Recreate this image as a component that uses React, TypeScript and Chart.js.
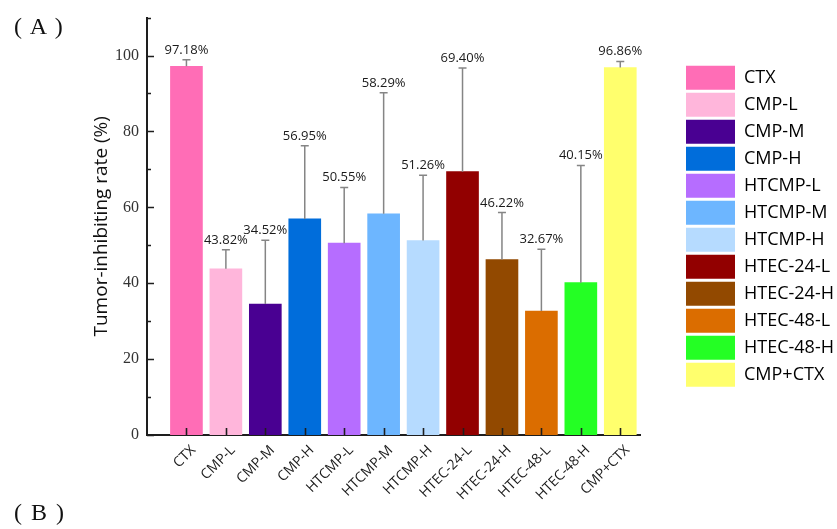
import { useEffect, useRef } from "react";
import { Chart, registerables } from "chart.js";

Chart.register(...registerables);

// Treatment groups and their tumor-inhibiting rates (%)
const groups = [
  "CTX",
  "CMP-L",
  "CMP-M",
  "CMP-H",
  "HTCMP-L",
  "HTCMP-M",
  "HTCMP-H",
  "HTEC-24-L",
  "HTEC-24-H",
  "HTEC-48-L",
  "HTEC-48-H",
  "CMP+CTX",
];
const rates = [97.18, 43.82, 34.52, 56.95, 50.55, 58.29, 51.26, 69.4, 46.22, 32.67, 40.15, 96.86];
// Upper error (SD) for each group
const rateErrors = [1.7, 5.0, 16.8, 19.3, 14.7, 31.9, 17.2, 27.3, 12.4, 16.3, 30.9, 1.6];
const groupColors = [
  "#ff6db6",
  "#ffb6db",
  "#490092",
  "#006ddb",
  "#b66dff",
  "#6db6ff",
  "#b6dbff",
  "#920000",
  "#924900",
  "#db6d00",
  "#24ff24",
  "#ffff6d",
];
const yTickValues = [0, 20, 40, 60, 80, 100];
const yMinorValues = [10, 30, 50, 70, 90, 110];

const SANS = "'Open Sans', 'Noto Sans', sans-serif";
const SERIF = "'Liberation Serif', 'Times New Roman', serif";
const AXIS_COLOR = "#1e1e1e";

// Error bars, value labels and inward-pointing axis ticks
const overlayPlugin = {
  id: "overlay",
  afterDatasetsDraw(chart: any) {
    const { ctx, chartArea } = chart;
    const xs = chart.scales.x;
    const ys = chart.scales.y;
    const meta = chart.getDatasetMeta(0);
    ctx.save();

    // error bars (upper only) with caps
    ctx.strokeStyle = "#858585";
    ctx.lineWidth = 1.5;
    meta.data.forEach((bar: any, i: number) => {
      const top = ys.getPixelForValue(rates[i] + rateErrors[i]);
      ctx.beginPath();
      ctx.moveTo(bar.x, bar.y);
      ctx.lineTo(bar.x, top);
      ctx.moveTo(bar.x - 4, top);
      ctx.lineTo(bar.x + 4, top);
      ctx.stroke();

      ctx.fillStyle = "#1a1a1a";
      ctx.font = `13px ${SANS}`;
      ctx.textAlign = "center";
      ctx.textBaseline = "alphabetic";
      ctx.fillText(`${rates[i].toFixed(2)}%`, bar.x, top - 6);
    });

    // axis tick marks pointing into the plot
    ctx.strokeStyle = AXIS_COLOR;
    ctx.lineWidth = 1.6;
    ctx.beginPath();
    yTickValues.forEach((v) => {
      const py = Math.round(ys.getPixelForValue(v)) + 0.5;
      ctx.moveTo(chartArea.left, py);
      ctx.lineTo(chartArea.left + 7, py);
    });
    yMinorValues.forEach((v) => {
      const py = Math.round(ys.getPixelForValue(v)) + 0.5;
      ctx.moveTo(chartArea.left, py);
      ctx.lineTo(chartArea.left + 4, py);
    });
    groups.forEach((_, i) => {
      const px = Math.round(xs.getPixelForValue(i)) + 0.5;
      ctx.moveTo(px, chartArea.bottom);
      ctx.lineTo(px, chartArea.bottom - 7);
    });
    ctx.stroke();
    ctx.restore();
  },
};

export default function App() {
  const canvasRef = useRef<HTMLCanvasElement | null>(null);

  useEffect(() => {
    const canvas = canvasRef.current;
    if (!canvas) return;

    const chart = new Chart(canvas, {
      type: "bar",
      data: {
        datasets: [
          {
            data: rates.map((v, i) => ({ x: i, y: v })),
            backgroundColor: groupColors,
            borderWidth: 0,
            barThickness: 32,
          },
        ],
      },
      options: {
        responsive: false,
        animation: false,
        events: [],
        layout: { padding: { left: 88, top: 17, right: 0, bottom: 0 } },
        scales: {
          x: {
            type: "linear",
            offset: false,
            min: -1,
            max: 11.5,
            afterBuildTicks: (scale: any) => {
              scale.ticks = groups.map((_, i) => ({ value: i }));
            },
            afterFit: (scale: any) => {
              scale.height = 94;
            },
            grid: { display: false, drawTicks: false },
            border: { display: true, color: AXIS_COLOR, width: 2 },
            ticks: {
              autoSkip: false,
              minRotation: 45,
              maxRotation: 45,
              padding: 7,
              labelOffset: 7,
              color: "#1a1a1a",
              font: { family: SANS, size: 14 },
              callback: (_v: any, idx: number) => groups[idx],
            },
          },
          y: {
            type: "linear",
            min: 0,
            max: 110,
            afterBuildTicks: (scale: any) => {
              scale.ticks = yTickValues.map((v) => ({ value: v }));
            },
            afterFit: (scale: any) => {
              scale.width = 59;
            },
            grid: { display: false, drawTicks: false },
            border: { display: true, color: AXIS_COLOR, width: 2 },
            ticks: {
              padding: 8,
              color: "#333",
              font: { family: SERIF, size: 16 },
            },
            title: {
              display: true,
              text: "Tumor-inhibiting rate (%)",
              color: "#111",
              font: { family: SANS, size: 19 },
              padding: { top: 2, bottom: 0 },
            },
          },
          gap: {
            type: "linear",
            position: "right",
            display: true,
            grid: { display: false, drawTicks: false },
            border: { display: false },
            ticks: { display: false },
            afterFit: (scale: any) => {
              scale.width = 43;
            },
          },
        },
        plugins: {
          tooltip: { enabled: false },
          legend: {
            position: "right",
            align: "center",
            fullSize: false,
            maxWidth: 154,
            onClick: () => {},
            labels: {
              boxWidth: 49,
              boxHeight: 24,
              padding: 3,
              color: "#111",
              font: { family: SANS, size: 18 },
              generateLabels: () =>
                groups.map((g, i) => ({
                  text: g,
                  fillStyle: groupColors[i],
                  strokeStyle: groupColors[i],
                  lineWidth: 0,
                  hidden: false,
                  index: i,
                  datasetIndex: 0,
                })),
            },
          },
        },
      },
      plugins: [overlayPlugin],
    } as any);

    return () => chart.destroy();
  }, []);

  const panelLabel: React.CSSProperties = {
    position: "absolute",
    left: 14,
    fontFamily: SERIF,
    fontSize: 24,
    lineHeight: 1,
    letterSpacing: 1.5,
    color: "#111",
    whiteSpace: "pre",
  };

  return (
    <div
      style={{
        position: "fixed",
        left: 0,
        top: 0,
        width: 837,
        height: 529,
        background: "#fff",
        overflow: "hidden",
      }}
    >
      <canvas
        ref={canvasRef}
        width={837}
        height={529}
        style={{ position: "absolute", left: 0, top: 0, width: 837, height: 529 }}
      />
      <span style={{ ...panelLabel, top: 14 }}>( A )</span>
      <span style={{ ...panelLabel, top: 500 }}>( B )</span>
    </div>
  );
}
